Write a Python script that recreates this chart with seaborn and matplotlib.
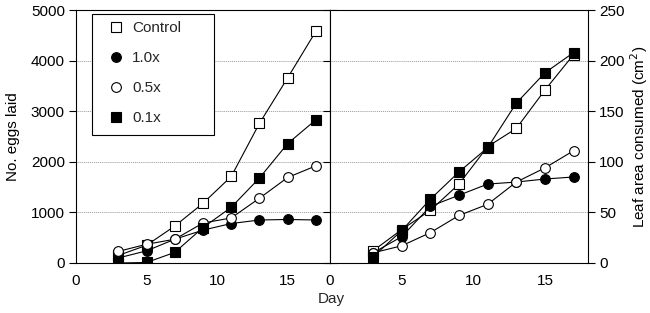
import matplotlib
matplotlib.use("Agg")
import matplotlib.pyplot as plt
import seaborn as sns
import pandas as pd
from matplotlib.lines import Line2D
from matplotlib.patches import Rectangle

sns.set_theme(style="white")
plt.rcParams['font.family'] = ['Liberation Sans', 'DejaVu Sans']

days = [3, 5, 7, 9, 11, 13, 15, 17]
treatments = ["Control", "1.0x", "0.5x", "0.1x"]

eggs_control = [150, 350, 730, 1180, 1710, 2760, 3660, 4580]
eggs_10x = [100, 240, 470, 650, 780, 850, 860, 850]
eggs_05x = [230, 370, 470, 790, 890, 1280, 1690, 1920]
eggs_01x = [0, 10, 210, 700, 1100, 1680, 2360, 2830]

leaf_control = [12, 33, 52, 78, 115, 133, 171, 206]
leaf_10x = [10, 26, 56, 67, 78, 80, 83, 85]
leaf_05x = [10, 17, 30, 47, 58, 80, 94, 111]
leaf_01x = [6, 32, 63, 90, 114, 158, 188, 208]

eggs = [eggs_control, eggs_10x, eggs_05x, eggs_01x]
leaf = [leaf_control, leaf_10x, leaf_05x, leaf_01x]
markers = ["s", "o", "o", "s"]
faces = ["white", "black", "white", "black"]
MS = 7

fig = plt.figure(figsize=(6.5, 3.13), dpi=100)
ax1 = fig.add_axes([76/650, 50/313, 254/650, 253/313])
ax2 = fig.add_axes([330/650, 50/313, 258/650, 253/313])

def draw(ax, data):
    for name, vals, m, fc in zip(treatments, data, markers, faces):
        df = pd.DataFrame({"Day": days, "v": vals})
        sns.lineplot(data=df, x="Day", y="v", ax=ax, color="black", lw=0.8,
                     marker=m, markersize=MS, markerfacecolor=fc,
                     markeredgecolor="black", markeredgewidth=0.8)

draw(ax1, eggs)
draw(ax2, leaf)

for ax in (ax1, ax2):
    ax.set_xlim(0, 18)
    ax.set_xticks([0, 5, 10, 15])
    for s in ax.spines.values():
        s.set_color("black")
        s.set_linewidth(0.8)
    ax.tick_params(direction="out", length=5, width=0.8, color="black",
                   labelsize=11, labelcolor="black", pad=3)
    ax.set_xlabel("")
    ax.set_ylabel("")

ax1.set_ylim(0, 5000)
ax1.set_yticks(range(0, 5001, 1000))
ax1.tick_params(axis="y", left=True, right=True, labelright=False)
ax1.set_ylabel("No. eggs laid", fontsize=11, color="black", labelpad=8)

ax2.set_ylim(0, 250)
ax2.set_yticks(range(0, 251, 50))
ax2.yaxis.tick_right()
ax2.yaxis.set_label_position("right")
ax2.tick_params(axis="y", left=True, right=True, labelleft=False, labelright=True)
ax2.set_ylabel("Leaf area consumed (cm$^2$)", fontsize=11, color="black", labelpad=3)

for ax in (ax1, ax2):
    ax.yaxis.grid(True, color="#999999", lw=0.7, ls=(0, (1, 1)))
    ax.set_axisbelow(True)
    gl = ax.get_ygridlines()
    gl[0].set_visible(False)
    gl[-1].set_visible(False)

fig.text(331/650, 7/313, "Day", ha="center", va="bottom", fontsize=11)

# legend frame (pixel box 92..214 x 14..135)
ax1.add_patch(Rectangle((16/254, 128/253), 122/254, 121/253, transform=ax1.transAxes,
                        facecolor="white", edgecolor="black", lw=0.8, zorder=5))
handles = [Line2D([], [], ls="none", marker=m, markersize=MS, markerfacecolor=fc,
                  markeredgecolor="black", markeredgewidth=0.8)
           for m, fc in zip(markers, faces)]
leg = ax1.legend(handles, treatments, loc="upper left",
                 bbox_to_anchor=(18/254, 249/253),
                 frameon=False, fontsize=11,
                 labelspacing=1.05, handletextpad=0.05, borderpad=0.45,
                 handlelength=2.0, borderaxespad=0)
leg.set_zorder(6)

fig.savefig("out.png", dpi=100)
